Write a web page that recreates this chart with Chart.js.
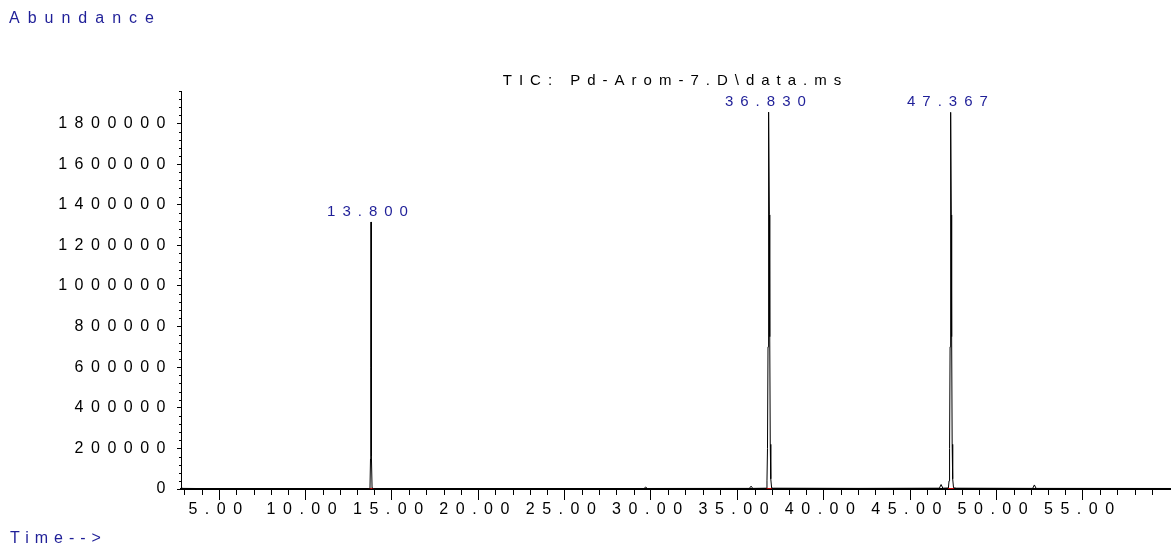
<!DOCTYPE html>
<html>
<head>
<meta charset="utf-8">
<title>TIC: Pd-Arom-7.D\data.ms</title>
<script src="https://cdn.jsdelivr.net/npm/chart.js@4.4.1/dist/chart.umd.min.js"></script>
<style>
  html, body { margin: 0; padding: 0; background: #fff; }
  canvas { display: block; }
</style>
</head>
<body>
<canvas id="tic" width="1176" height="552"></canvas>
<script>
// Total ion chromatogram: retention time (min) and abundance
const timeMin = [
  2.80, 2.90, 5.00, 10.00,
  13.70, 13.74, 13.77, 13.785, 13.800, 13.815, 13.83, 13.86, 13.95,
  18.00, 25.00,
  29.60, 29.70, 29.80,
  35.70, 35.80, 35.90,
  36.68, 36.72, 36.75, 36.78, 36.80, 36.830, 36.86, 36.88, 36.91, 36.94, 36.99, 37.10,
  42.00,
  46.70, 46.80, 46.90,
  47.22, 47.26, 47.29, 47.32, 47.34, 47.367, 47.39, 47.41, 47.44, 47.47, 47.52, 47.70,
  52.10, 52.20, 52.30,
  60.05
];
const abundance = [
  11000, 3000, 1500, 1500,
  2000, 5000, 150000, 600000, 1315000, 650000, 160000, 5000, 2000,
  2000, 2000,
  2500, 9000, 2500,
  3000, 14000, 3000,
  4000, 40000, 200000, 700000, 1300000, 1856000, 1350000, 750000, 220000, 50000, 5000, 4000,
  3000,
  4000, 22000, 4000,
  5000, 40000, 200000, 700000, 1300000, 1855000, 1350000, 750000, 220000, 50000, 6000, 4000,
  3000, 20000, 3000,
  2500
];

// Integrated peaks: apex retention times and integration limits
const peakTimes = [13.800, 36.830, 47.367];
const peakLabels = ['13.800', '36.830', '47.367'];
const peakStart = [13.62, 36.66, 47.19];
const peakEnd = [13.98, 37.00, 47.55];

// Axis ticks
const xTickValues = [5, 10, 15, 20, 25, 30, 35, 40, 45, 50, 55];
const xTickLabels = ['5.00', '10.00', '15.00', '20.00', '25.00', '30.00', '35.00', '40.00', '45.00', '50.00', '55.00'];
const yTickValues = [0, 200000, 400000, 600000, 800000, 1000000, 1200000, 1400000, 1600000, 1800000];
const yTickLabels = ['0', '200000', '400000', '600000', '800000', '1000000', '1200000', '1400000', '1600000', '1800000'];

const FONT = '"Liberation Sans", Arial, Helvetica, sans-serif';
const BLUE = '#1f1f98';
const TICK_SPACING = '7.5px';

const traceData = timeMin.map((t, i) => ({ x: t, y: abundance[i] }));
const integrationData = [];
peakStart.forEach((s, i) => {
  integrationData.push({ x: s, y: 0 }, { x: peakEnd[i], y: 0 }, { x: peakEnd[i], y: null });
});

// Wide character spacing for the axis tick labels
const spacedText = {
  id: 'spacedText',
  beforeLayout(chart) { chart.ctx.letterSpacing = TICK_SPACING; },
  beforeDraw(chart) { chart.ctx.letterSpacing = TICK_SPACING; }
};

// Short minor ticks: every minute on time, every 40000 on abundance
const minorTicks = {
  id: 'minorTicks',
  afterDatasetsDraw(chart) {
    const { ctx, scales: { x, y } } = chart;
    ctx.save();
    ctx.strokeStyle = '#000';
    ctx.lineWidth = 1;
    ctx.beginPath();
    for (let v = Math.ceil(x.min); v <= x.max; v += 1) {
      if (v % 5 === 0) continue;
      const px = Math.round(x.getPixelForValue(v)) + 0.5;
      ctx.moveTo(px, y.bottom);
      ctx.lineTo(px, y.bottom + 6);
    }
    for (let v = 40000; v <= y.max; v += 40000) {
      if (v % 200000 === 0) continue;
      const py = Math.round(y.getPixelForValue(v)) + 0.5;
      ctx.moveTo(x.left - 2, py);
      ctx.lineTo(x.left, py);
    }
    ctx.stroke();
    ctx.restore();
  }
};

// Axis captions, title and retention-time labels above each peak
const annotations = {
  id: 'annotations',
  afterDraw(chart) {
    const { ctx, chartArea, scales: { x, y } } = chart;
    ctx.save();
    ctx.textBaseline = 'alphabetic';

    ctx.fillStyle = BLUE;
    ctx.font = '16px ' + FONT;
    ctx.textAlign = 'left';
    ctx.letterSpacing = '8px';
    ctx.fillText('Abundance', 9, 23);
    ctx.letterSpacing = '6px';
    ctx.fillText('Time-->', 10, 543);

    ctx.fillStyle = '#000';
    ctx.font = '15px ' + FONT;
    ctx.textAlign = 'center';
    ctx.letterSpacing = '7px';
    ctx.fillText('TIC: Pd-Arom-7.D\\data.ms', (chartArea.left + chartArea.right) / 2, 85);

    ctx.fillStyle = BLUE;
    ctx.font = '15px ' + FONT;
    peakTimes.forEach((t, i) => {
      const apex = abundance[timeMin.indexOf(t)];
      ctx.fillText(peakLabels[i], x.getPixelForValue(t), y.getPixelForValue(apex) - 6);
    });
    ctx.restore();
  }
};

Chart.defaults.font.family = FONT;

new Chart(document.getElementById('tic'), {
  type: 'line',
  data: {
    datasets: [
      {
        label: 'TIC',
        data: traceData,
        borderColor: '#000',
        borderWidth: 1,
        pointRadius: 0,
        tension: 0,
        fill: false
      },
      {
        label: 'Integration',
        data: integrationData,
        borderColor: '#c00000',
        borderWidth: 2,
        pointRadius: 0,
        tension: 0,
        spanGaps: false,
        fill: false
      }
    ]
  },
  options: {
    responsive: false,
    animation: false,
    events: [],
    layout: { padding: { top: 91, right: 6, bottom: 23, left: 0 } },
    plugins: {
      legend: { display: false },
      title: { display: false },
      tooltip: { enabled: false }
    },
    scales: {
      x: {
        type: 'linear',
        min: 2.8,
        max: 60.05,
        afterBuildTicks(scale) { scale.ticks = xTickValues.map(v => ({ value: v })); },
        afterFit(scale) { scale.height = 40; },
        ticks: {
          callback: (v, i) => xTickLabels[i],
          color: '#000',
          font: { size: 16 },
          padding: 0,
          maxRotation: 0,
          autoSkip: false
        },
        grid: { drawOnChartArea: false, drawTicks: true, tickLength: 11, tickColor: '#000', tickWidth: 1 },
        border: { display: true, color: '#000', width: 2 }
      },
      y: {
        min: 0,
        max: 1960000,
        afterBuildTicks(scale) { scale.ticks = yTickValues.map(v => ({ value: v })); },
        afterFit(scale) { scale.width = 181; },
        ticks: {
          callback: (v, i) => yTickLabels[i],
          color: '#000',
          font: { size: 16 },
          padding: 4,
          autoSkip: false
        },
        grid: { drawOnChartArea: false, drawTicks: true, tickLength: 4, tickColor: '#000', tickWidth: 1 },
        border: { display: true, color: '#000', width: 1 }
      }
    }
  },
  plugins: [spacedText, minorTicks, annotations]
});
</script>
</body>
</html>
